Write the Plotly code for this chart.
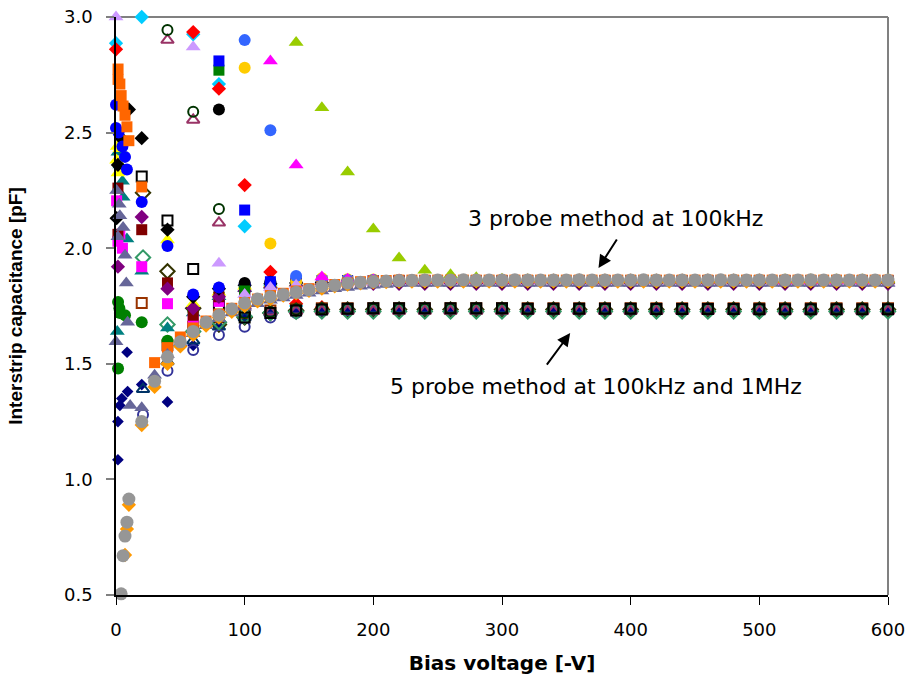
import plotly.graph_objects as go

# ---------------- data ----------------
# common bias-voltage steps of the later part of the sweeps
v10 = [20, 30, 40, 50, 60, 70, 80, 90, 100, 110, 120, 130, 140, 150, 160, 170, 180, 190, 200,
       210, 220, 230, 240, 250, 260, 270, 280, 290, 300, 310, 320, 330, 340, 350, 360, 370, 380,
       390, 400, 410, 420, 430, 440, 450, 460, 470, 480, 490, 500, 510, 520, 530, 540, 550, 560,
       570, 580, 590, 600]
v20 = [20, 40, 60, 80, 100, 120, 140, 160, 180, 200, 220, 240, 260, 280, 300, 320, 340, 360,
       380, 400, 420, 440, 460, 480, 500, 520, 540, 560, 580, 600]

# ---- 3 probe method, 10 V steps ----
gray_circ_x = [4, 5.5, 7, 8.5, 10] + v10
gray_circ_y = [0.505, 0.67, 0.755, 0.815, 0.915,
               1.25, 1.425, 1.53, 1.595, 1.64, 1.68, 1.71, 1.737, 1.763, 1.78, 1.79, 1.80, 1.81,
               1.82, 1.835, 1.84, 1.85, 1.853, 1.856, 1.858, 1.86, 1.861, 1.862, 1.862, 1.862,
               1.863, 1.862, 1.862, 1.862, 1.863, 1.862, 1.862, 1.862, 1.862, 1.863, 1.862, 1.862,
               1.862, 1.862, 1.863, 1.862, 1.862, 1.862, 1.862, 1.862, 1.863, 1.862, 1.862, 1.862,
               1.862, 1.862, 1.862, 1.863, 1.862, 1.862, 1.862, 1.862, 1.862, 1.862]

orange_dia_x = [7, 8.5, 10] + v10
orange_dia_y = [0.673, 0.785, 0.89,
                1.235, 1.40, 1.50, 1.575, 1.625, 1.665, 1.70, 1.725, 1.75, 1.77, 1.78, 1.795,
                1.805, 1.815, 1.825, 1.835, 1.843, 1.848, 1.852, 1.853, 1.854, 1.855, 1.855,
                1.855, 1.855, 1.855, 1.855, 1.855, 1.855, 1.855, 1.855, 1.855, 1.855, 1.855,
                1.855, 1.855, 1.855, 1.855, 1.855, 1.855, 1.855, 1.855, 1.855, 1.855, 1.855,
                1.855, 1.855, 1.855, 1.855, 1.855, 1.855, 1.855, 1.855, 1.855, 1.855, 1.855,
                1.855, 1.855, 1.855]

orange_sq_x = [1.6, 1.6, 3, 4, 5.5, 7, 8.5, 10] + v10
orange_sq_y = [2.775, 2.73, 2.71, 2.66, 2.615, 2.575, 2.525, 2.465,
               2.265, 1.505, 1.57, 1.616, 1.655, 1.685, 1.715, 1.74, 1.765, 1.78, 1.795, 1.805,
               1.815, 1.825, 1.835, 1.843, 1.85, 1.855, 1.858, 1.86, 1.862, 1.862, 1.862, 1.862,
               1.862, 1.862, 1.862, 1.862, 1.862, 1.862, 1.862, 1.862, 1.862, 1.862, 1.862,
               1.862, 1.862, 1.862, 1.862, 1.862, 1.862, 1.862, 1.862, 1.862, 1.862, 1.862,
               1.862, 1.862, 1.862, 1.862, 1.862, 1.862, 1.862, 1.862, 1.862, 1.862, 1.862,
               1.862, 1.862]

slate_tri_x = [0, 9, 11] + v10
slate_tri_y = [1.595, 1.68, 1.32,
               1.31, 1.45, 1.54, 1.59, 1.63, 1.665, 1.695, 1.72, 1.745, 1.76, 1.775, 1.785,
               1.795, 1.805, 1.815, 1.825, 1.83, 1.835, 1.84, 1.843, 1.847, 1.847, 1.847, 1.847,
               1.847, 1.847, 1.847, 1.847, 1.847, 1.847, 1.847, 1.847, 1.847, 1.847, 1.847,
               1.847, 1.847, 1.847, 1.847, 1.847, 1.847, 1.847, 1.847, 1.847, 1.847, 1.847,
               1.847, 1.847, 1.847, 1.847, 1.847, 1.847, 1.847, 1.847, 1.847, 1.847, 1.847,
               1.847, 1.847]

slate_tri2_x = [3, 5.5, 1.5, 7, 8, 2.5, 0.5]
slate_tri2_y = [2.14, 2.09, 2.05, 1.97, 1.85, 2.19, 2.25]

# ---- 3 probe method, 20 V steps ----
lav_tri_x = [0, 60, 80, 100, 120] + v20[6:]
lav_tri_y = [3.0, 2.87, 1.935, 1.80, 1.83,
             1.84, 1.848, 1.85, 1.852, 1.852, 1.852, 1.852, 1.852, 1.852, 1.852, 1.852, 1.852,
             1.852, 1.852, 1.852, 1.852, 1.852, 1.852, 1.852, 1.852, 1.852, 1.852, 1.852, 1.852]

blue_circ_x = [100, 120] + v20[6:]
blue_circ_y = [2.90, 2.51,
               1.88, 1.865, 1.862, 1.862, 1.862, 1.862, 1.862, 1.862, 1.862, 1.862, 1.862,
               1.862, 1.862, 1.862, 1.862, 1.862, 1.862, 1.862, 1.862, 1.862, 1.862, 1.862,
               1.862, 1.862]

gold_circ_x = [100, 120] + v20[6:]
gold_circ_y = [2.78, 2.02,
               1.855, 1.87, 1.866, 1.865, 1.864, 1.864, 1.864, 1.864, 1.864, 1.864, 1.864,
               1.864, 1.864, 1.864, 1.864, 1.864, 1.864, 1.864, 1.864, 1.864, 1.864, 1.864,
               1.864, 1.864]

blue_sq_x = [80, 100] + v20[5:]
blue_sq_y = [2.81, 2.165,
             1.855, 1.858, 1.86, 1.86, 1.86, 1.86, 1.86, 1.86, 1.86, 1.86, 1.86, 1.86, 1.86,
             1.86, 1.86, 1.86, 1.86, 1.86, 1.86, 1.86, 1.86, 1.86, 1.86, 1.86, 1.86]

green_sq_x = [80] + v20[4:]
green_sq_y = [2.77,
              1.815, 1.815, 1.84, 1.852, 1.857, 1.86, 1.86, 1.86, 1.86, 1.86, 1.86, 1.86, 1.86,
              1.86, 1.86, 1.86, 1.86, 1.86, 1.86, 1.86, 1.86, 1.86, 1.86, 1.86, 1.86, 1.86]

black_circ_x = [80] + v20[4:]
black_circ_y = [2.60,
                1.85, 1.855, 1.857, 1.858, 1.858, 1.858, 1.858, 1.858, 1.858, 1.858, 1.858,
                1.858, 1.858, 1.858, 1.858, 1.858, 1.858, 1.858, 1.858, 1.858, 1.858, 1.858,
                1.858, 1.858, 1.858, 1.858]

mag_tri_x = [120, 140] + v20[7:]
mag_tri_y = [2.81, 2.36,
             1.875, 1.866, 1.862, 1.862, 1.862, 1.862, 1.862, 1.862, 1.862, 1.862, 1.862,
             1.862, 1.862, 1.862, 1.862, 1.862, 1.862, 1.862, 1.858, 1.858, 1.858, 1.858]

yg_tri_x = v20[6:]
yg_tri_y = [2.89, 2.607, 2.33, 2.083, 1.958, 1.905, 1.885, 1.872, 1.866, 1.863, 1.862, 1.862,
            1.862, 1.862, 1.862, 1.862, 1.862, 1.862, 1.862, 1.862, 1.862, 1.862, 1.862, 1.862]

black_dia_x = [1.5, 4, 10, 0.5] + v20
black_dia_y = [2.36, 2.476, 2.60, 2.13,
               2.476, 2.08, 1.79, 1.825, 1.84, 1.846, 1.85, 1.852, 1.852, 1.852, 1.852,
               1.852, 1.852, 1.852, 1.852, 1.852, 1.852, 1.852, 1.852, 1.852, 1.852, 1.852,
               1.852, 1.852, 1.852, 1.852, 1.852, 1.852, 1.852, 1.852]

purple_dia_x = [1.5] + v20
purple_dia_y = [1.92,
                2.135, 1.825, 1.74, 1.79, 1.815, 1.83, 1.838, 1.843, 1.846, 1.846, 1.846,
                1.846, 1.846, 1.846, 1.846, 1.846, 1.846, 1.846, 1.846, 1.846, 1.846, 1.846,
                1.846, 1.846, 1.846, 1.846, 1.846, 1.846, 1.846, 1.846]

maroon_sq_x = [1.5, 1.5] + v20[:12]
maroon_sq_y = [2.26, 2.06,
               2.08, 1.85, 1.71, 1.79, 1.82, 1.84, 1.85, 1.855, 1.858, 1.86, 1.86, 1.86]

blue_pure_x = [0, 0, 5, 7, 8.5, 2] + v20[:12]
blue_pure_y = [2.62, 2.52, 2.44, 2.395, 2.34, 2.50,
               2.20, 2.01, 1.80, 1.83, 1.845, 1.85, 1.855, 1.858, 1.86, 1.86, 1.86, 1.86]

yellow_tri_x = [1, 1.5, 0.5, 3] + v20[1:12]
yellow_tri_y = [2.44, 2.325, 2.38, 2.43,
                2.035, 1.76, 1.81, 1.835, 1.845, 1.85, 1.855, 1.858, 1.86, 1.86, 1.86]

mag_sq_x = [0.5, 1.5, 3, 5] + v20[:12]
mag_sq_y = [2.205, 2.03, 2.06, 2.0,
            1.92, 1.76, 1.69, 1.77, 1.81, 1.83, 1.845, 1.852, 1.857, 1.86, 1.86, 1.86]

green_circ_x = [1.6, 2.6, 3, 7, 1.6] + v20[:12]
green_circ_y = [1.767, 1.74, 1.72, 1.71, 1.48,
                1.68, 1.60, 1.73, 1.80, 1.83, 1.845, 1.852, 1.857, 1.86, 1.86, 1.86, 1.86]

teal_tri_x = [1, 1.5, 5, 5.5, 8.5, 3] + v20[:12]
teal_tri_y = [1.64, 2.415, 2.29, 2.22, 2.04, 2.36,
              1.90, 1.655, 1.72, 1.79, 1.825, 1.84, 1.85, 1.855, 1.858, 1.86, 1.86, 1.86]

# ---- 5 probe method, 20 V steps ----
navy_dia_x = [1.5, 1.5, 3, 4.5, 9, 8.6] + v20
navy_dia_y = [1.085, 1.25, 1.32, 1.35, 1.38, 1.55,
              1.41, 1.335, 1.58, 1.66, 1.70, 1.72, 1.73, 1.735, 1.735, 1.735, 1.735, 1.735,
              1.735, 1.735, 1.735, 1.735, 1.735, 1.735, 1.735, 1.735, 1.735, 1.735, 1.735,
              1.735, 1.735, 1.735, 1.735, 1.735, 1.735, 1.735]

cyan_dia_x = [0, 20, 60, 80, 100, 120] + v20[6:]
cyan_dia_y = [2.887, 3.0, 2.925, 2.71, 2.095, 1.84,
              1.75, 1.74, 1.737, 1.737, 1.737, 1.737, 1.737, 1.737, 1.737, 1.737, 1.737,
              1.737, 1.737, 1.737, 1.737, 1.737, 1.737, 1.737, 1.737, 1.737, 1.737, 1.737,
              1.737, 1.737]

red_dia_x = [0, 60, 80, 100, 120] + v20[6:]
red_dia_y = [2.86, 2.935, 2.69, 2.273, 1.897,
             1.76, 1.745, 1.738, 1.736, 1.736, 1.736, 1.736, 1.736, 1.736, 1.736, 1.736,
             1.736, 1.736, 1.736, 1.736, 1.736, 1.736, 1.736, 1.736, 1.736, 1.736, 1.736,
             1.736, 1.736]

teal_odia_x = [21] + v20[1:]
teal_odia_y = [1.96, 1.67, 1.64, 1.68, 1.705, 1.72,
               1.725, 1.726, 1.726, 1.726, 1.726, 1.726, 1.726, 1.726, 1.726, 1.726, 1.726,
               1.726, 1.726, 1.726, 1.726, 1.726, 1.726, 1.726, 1.726, 1.726, 1.726, 1.726,
               1.726, 1.726]

mauve_otri_x = v20[1:]
mauve_otri_y = [2.90, 2.555, 2.11, 1.75, 1.725,
                1.728, 1.728, 1.728, 1.728, 1.728, 1.728, 1.728, 1.728, 1.728, 1.728, 1.728,
                1.728, 1.728, 1.728, 1.728, 1.728, 1.728, 1.728, 1.728, 1.728, 1.728, 1.728,
                1.728, 1.728]

navy_ocirc_x = [21] + v20[1:]
navy_ocirc_y = [1.28, 1.47, 1.56, 1.625, 1.66, 1.70,
                1.72, 1.73, 1.733, 1.735, 1.735, 1.735, 1.735, 1.735, 1.735, 1.735, 1.735,
                1.735, 1.735, 1.735, 1.735, 1.735, 1.735, 1.735, 1.735, 1.735, 1.735, 1.735,
                1.735, 1.735]

navy_otri_x = [21] + v20[1:]
navy_otri_y = [1.39, 1.51, 1.60, 1.66, 1.70, 1.72,
               1.73, 1.735, 1.735, 1.735, 1.735, 1.735, 1.735, 1.735, 1.735, 1.735, 1.735,
               1.735, 1.735, 1.735, 1.735, 1.735, 1.735, 1.735, 1.735, 1.735, 1.735, 1.735,
               1.735, 1.735]

brown_osq_x = v20
brown_osq_y = [1.763, 1.58, 1.66, 1.70, 1.72, 1.73,
               1.738, 1.74, 1.74, 1.74, 1.74, 1.74, 1.74, 1.74, 1.74, 1.74, 1.74, 1.74, 1.74,
               1.74, 1.74, 1.74, 1.74, 1.74, 1.74, 1.74, 1.74, 1.74, 1.74, 1.74]

olive_odia_x = [21] + v20[1:]
olive_odia_y = [2.24, 1.90, 1.74, 1.67, 1.70, 1.72,
                1.73, 1.735, 1.735, 1.735, 1.735, 1.735, 1.735, 1.735, 1.735, 1.735, 1.735,
                1.735, 1.735, 1.735, 1.735, 1.735, 1.735, 1.735, 1.735, 1.735, 1.735, 1.735,
                1.735, 1.735]

dkgreen_ocirc_x = v20[1:]
dkgreen_ocirc_y = [2.944, 2.59, 2.17, 1.72, 1.724,
                   1.735, 1.738, 1.738, 1.738, 1.738, 1.738, 1.738, 1.738, 1.738, 1.738, 1.738,
                   1.738, 1.738, 1.738, 1.738, 1.738, 1.738, 1.738, 1.738, 1.738, 1.738, 1.738,
                   1.738, 1.738]

black_osq_x = v20
black_osq_y = [2.31, 2.12, 1.91, 1.755, 1.70, 1.72,
               1.73, 1.735, 1.738, 1.74, 1.74, 1.74, 1.74, 1.74, 1.74, 1.738, 1.738, 1.738,
               1.738, 1.738, 1.737, 1.737, 1.737, 1.737, 1.736, 1.736, 1.736, 1.736, 1.736,
               1.736]

# annotation texts
label_3probe = "3 probe method at 100kHz"
label_5probe = "5 probe method at 100kHz and 1MHz"

x_ticks = [0, 100, 200, 300, 400, 500, 600]
y_ticks = [0.5, 1.0, 1.5, 2.0, 2.5, 3.0]

# ---------------- series styles (drawing order: first = bottom) ----------------
series = [
    # 5-probe (hidden underneath first)
    (cyan_dia_x, cyan_dia_y, "#00CCFF", "diamond", 11),
    (red_dia_x, red_dia_y, "#FF0000", "diamond", 11),
    (navy_dia_x, navy_dia_y, "#000080", "diamond", 9),
    (brown_osq_x, brown_osq_y, "#993300", "square-open", 10),
    (olive_odia_x, olive_odia_y, "#333300", "diamond-open", 11),
    (navy_otri_x, navy_otri_y, "#003366", "triangle-up-open", 11),
    (navy_ocirc_x, navy_ocirc_y, "#333399", "circle-open", 10),
    (teal_odia_x, teal_odia_y, "#339966", "diamond-open", 11),
    (mauve_otri_x, mauve_otri_y, "#993366", "triangle-up-open", 11),
    (dkgreen_ocirc_x, dkgreen_ocirc_y, "#003300", "circle-open", 10),
    (black_osq_x, black_osq_y, "#000000", "square-open", 10),
    # 3-probe, 20 V steps
    (green_circ_x, green_circ_y, "#008000", "circle", 12),
    (teal_tri_x, teal_tri_y, "#008080", "triangle-up", 13),
    (mag_sq_x, mag_sq_y, "#FF00FF", "square", 11),
    (yellow_tri_x, yellow_tri_y, "#FFFF00", "triangle-up", 13),
    (maroon_sq_x, maroon_sq_y, "#800000", "square", 11),
    (purple_dia_x, purple_dia_y, "#800080", "diamond", 11),
    (black_dia_x, black_dia_y, "#000000", "diamond", 11),
    (blue_pure_x, blue_pure_y, "#0000FF", "circle", 12),
    (black_circ_x, black_circ_y, "#000000", "circle", 12),
    (green_sq_x, green_sq_y, "#008000", "square", 11),
    (blue_sq_x, blue_sq_y, "#0000FF", "square", 11),
    (gold_circ_x, gold_circ_y, "#FFCC00", "circle", 12),
    (blue_circ_x, blue_circ_y, "#3366FF", "circle", 12),
    (lav_tri_x, lav_tri_y, "#CC99FF", "triangle-up", 13),
    (mag_tri_x, mag_tri_y, "#FF00FF", "triangle-up", 13),
    (yg_tri_x, yg_tri_y, "#99CC00", "triangle-up", 13),
    (slate_tri2_x, slate_tri2_y, "#666699", "triangle-up", 13),
    # 3-probe, 10 V steps
    (orange_sq_x, orange_sq_y, "#FF6600", "square", 11),
    (slate_tri_x, slate_tri_y, "#666699", "triangle-up", 13),
    (orange_dia_x, orange_dia_y, "#FF9900", "diamond", 11),
    (gray_circ_x, gray_circ_y, "#969696", "circle", 13),
]

fig = go.Figure()
for xs, ys, col, sym, sz in series:
    is_open = sym.endswith("-open")
    fig.add_trace(go.Scatter(
        x=xs, y=ys, mode="markers", cliponaxis=False, showlegend=False,
        marker=dict(symbol=sym, size=sz, color=col,
                    line=dict(color=col, width=2 if is_open else 0)),
    ))

# arrows
fig.add_annotation(x=375, y=1.914, ax=390, ay=2.044, axref="x", ayref="y", xref="x", yref="y",
                   text="", showarrow=True, arrowhead=2, arrowsize=1.3, arrowwidth=2,
                   arrowcolor="black")
fig.add_annotation(x=353, y=1.633, ax=334, ay=1.49, axref="x", ayref="y", xref="x", yref="y",
                   text="", showarrow=True, arrowhead=2, arrowsize=1.3, arrowwidth=2,
                   arrowcolor="black")
# labels
fig.add_annotation(x=388, y=2.13, xref="x", yref="y", text=label_3probe, showarrow=False,
                   font=dict(family="DejaVu Sans", size=22, color="black"))
fig.add_annotation(x=373, y=1.404, xref="x", yref="y", text=label_5probe, showarrow=False,
                   font=dict(family="DejaVu Sans", size=22, color="black"))

# gray plot-area border (top and right)
fig.add_shape(type="line", xref="paper", yref="paper", x0=0, x1=1, y0=1, y1=1,
              line=dict(color="#808080", width=2), layer="below")
fig.add_shape(type="line", xref="paper", yref="paper", x0=1, x1=1, y0=0, y1=1,
              line=dict(color="#808080", width=2), layer="below")

fig.update_layout(
    width=911, height=677,
    margin=dict(l=116, r=23, t=17, b=82, pad=0, autoexpand=False),
    paper_bgcolor="white", plot_bgcolor="white",
    xaxis=dict(range=[0, 600], tickvals=x_ticks, ticks="outside", ticklen=8, tickwidth=1,
               tickcolor="black", showline=True, linecolor="black", linewidth=1.5,
               showgrid=False, zeroline=False, ticklabelstandoff=10, automargin=False,
               tickfont=dict(family="DejaVu Sans", size=18, color="black"),
               title=dict(text="<b>Bias voltage [-V]</b>", standoff=17,
                          font=dict(family="DejaVu Sans", size=20, color="black"))),
    yaxis=dict(range=[0.5, 3.0], tickvals=y_ticks, tickformat=".1f", ticks="outside",
               ticklen=8, tickwidth=1.5, tickcolor="#808080", showline=True, linecolor="black",
               linewidth=1.5, showgrid=False, zeroline=False, ticklabelstandoff=10,
               automargin=False,
               tickfont=dict(family="DejaVu Sans", size=18, color="black"),
               title=dict(text="<b>Interstrip capacitance [pF]</b>", standoff=36,
                          font=dict(family="Liberation Sans", size=19, color="black"))),
)

fig.write_html("out.html")
